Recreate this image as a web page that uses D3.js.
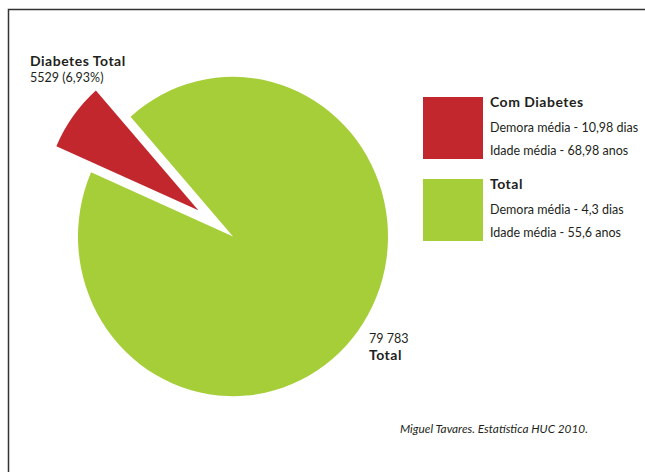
<!DOCTYPE html>
<html>
<head>
<meta charset="utf-8">
<script src="https://cdn.jsdelivr.net/npm/d3@7"></script>
<style>
  body { margin: 0; background: #fff; }
  svg text { font-family: Lato, "Open Sans", sans-serif; fill: #231f20; }
  svg text.bold { font-weight: bold; font-size: 14px; letter-spacing: 0.5px; }
</style>
</head>
<body>
<script>
// slice data
const categories = ["Diabetes Total", "Total"];
const values = [5529, 74254];
const colors = ["#c1272d", "#a6ce39"];
const legendTitles = ["Com Diabetes", "Total"];
const legendDemora = ["Demora média - 10,98 dias", "Demora média - 4,3 dias"];
const legendIdade = ["Idade média - 68,98 anos", "Idade média - 55,6 anos"];

const width = 645, height = 472;
const svg = d3.select("body").append("svg")
    .attr("width", width)
    .attr("height", height);

// frame (top and left only)
svg.append("path")
    .attr("d", `M8.5,${height} V9.5 H${width}`)
    .attr("fill", "none")
    .attr("stroke", "#333")
    .attr("stroke-width", 1.5);

// pie
const radius = 155;
const pie = d3.pie().sort(null)
    .startAngle(-66.3 * Math.PI / 180)
    .endAngle(2 * Math.PI - 66.3 * Math.PI / 180);
const arc = d3.arc().innerRadius(0).outerRadius(radius);
const arcs = pie(values);

const g = svg.append("g")
    .attr("transform", "translate(233,236.5) scale(1,1.03)");

const explode = 43;
g.selectAll("path.slice")
    .data(arcs)
    .enter()
    .append("path")
    .attr("class", "slice")
    .attr("d", arc)
    .attr("fill", (d, i) => colors[i])
    .attr("transform", (d, i) => {
        if (i !== 0) return null;
        const a = (d.startAngle + d.endAngle) / 2;
        return `translate(${Math.sin(a) * explode},${-Math.cos(a) * explode})`;
    });

// slice labels
const fmtPct = v => (v / d3.sum(values) * 100).toFixed(2).replace(".", ",") + "%";
svg.append("text")
    .attr("class", "bold")
    .attr("x", 30).attr("y", 66)
    .text(categories[0]);
svg.append("text")
    .attr("x", 30).attr("y", 82)
    .style("font-size", "12.5px")
    .text(`${values[0]} (${fmtPct(values[0])})`);

svg.append("text")
    .attr("x", 369).attr("y", 343)
    .style("font-size", "12.5px")
    .text("79 783");
svg.append("text")
    .attr("class", "bold")
    .attr("x", 369).attr("y", 360)
    .text(categories[1]);

// legend
const legend = svg.selectAll("g.legend")
    .data(legendTitles)
    .enter()
    .append("g")
    .attr("class", "legend")
    .attr("transform", (d, i) => `translate(423,${97 + i * 82})`);

legend.append("rect")
    .attr("width", 60).attr("height", 62)
    .attr("fill", (d, i) => colors[i]);
legend.append("text")
    .attr("class", "bold")
    .attr("x", 67).attr("y", 10)
    .text(d => d);
legend.append("text")
    .attr("x", 67).attr("y", 35)
    .style("font-size", "12.5px")
    .text((d, i) => legendDemora[i]);
legend.append("text")
    .attr("x", 67).attr("y", 58)
    .style("font-size", "12.5px")
    .text((d, i) => legendIdade[i]);

// source note
svg.append("text")
    .attr("x", 400).attr("y", 433)
    .style("font-size", "11.8px").style("font-style", "italic")
    .text("Miguel Tavares. Estatística HUC 2010.");
</script>
</body>
</html>
